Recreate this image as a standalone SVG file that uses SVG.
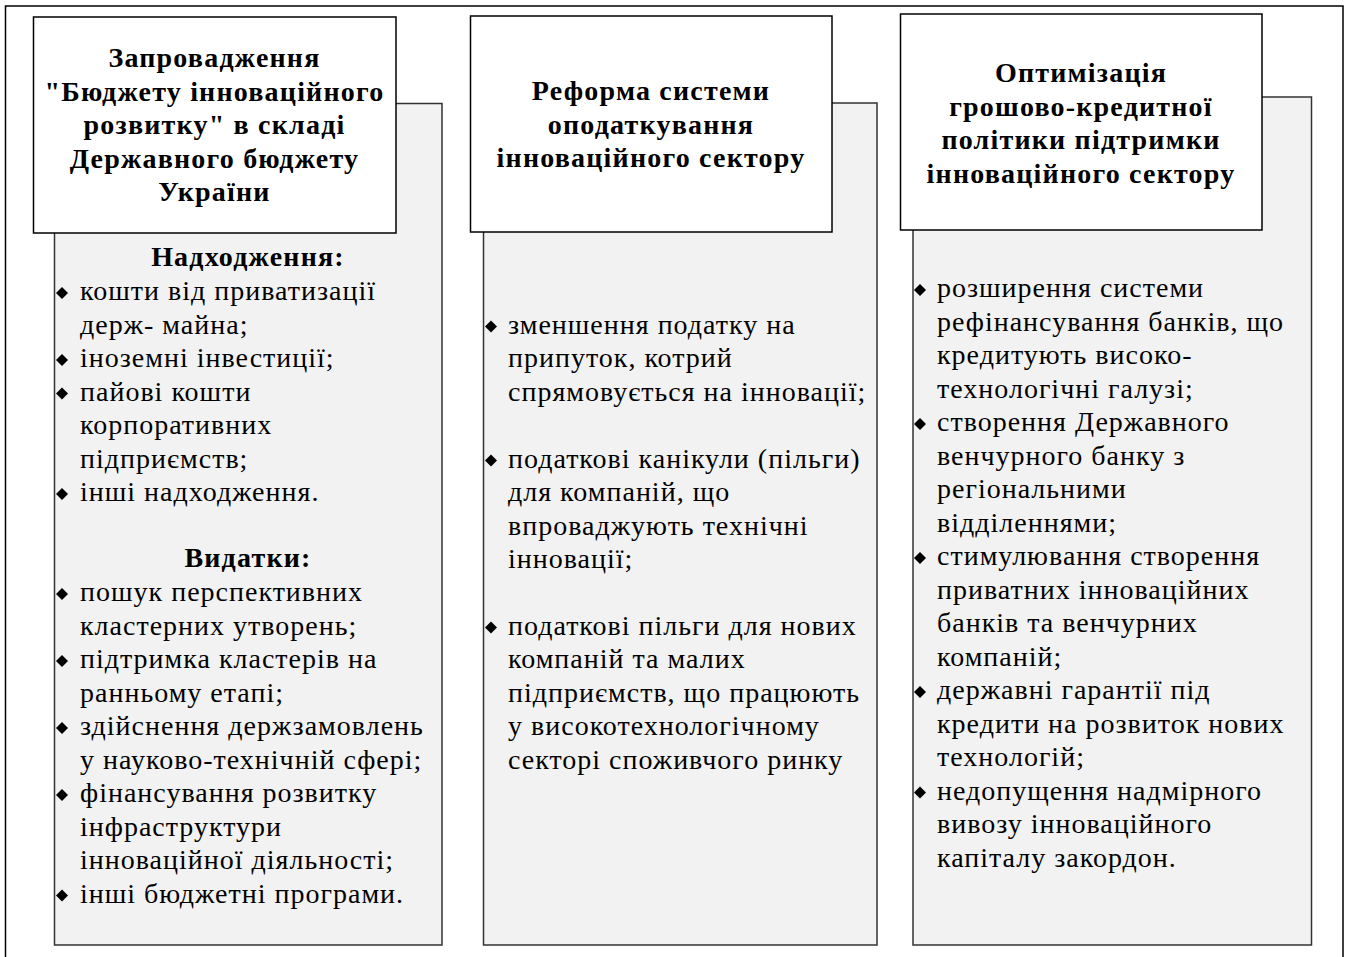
<svg xmlns="http://www.w3.org/2000/svg" width="1348" height="957" viewBox="0 0 1348 957">
<defs>
<style>
.frame{fill:none;stroke:#000;stroke-width:1.5}
.panel{fill:#f2f2f2;stroke:#333;stroke-width:1.5}
.head{fill:#fff;stroke:#000;stroke-width:1.5}
.t{font-family:"Liberation Serif","Times New Roman",serif;font-size:28px;fill:#000}
.b{font-weight:bold;text-anchor:middle;letter-spacing:1.2px}
.body{letter-spacing:1px}
.dot{fill:#000}
</style>
<path id="dm" d="M0,-6 L6,0 L0,6 L-6,0 Z"/>
</defs>
<rect class="frame" x="5.5" y="6" width="1337.5" height="960"/>

<g id="connectors"></g>

<g id="col1">
<rect class="panel" x="54.5" y="103.5" width="387.5" height="841.5"/>
<rect class="head" x="33.5" y="17" width="362.5" height="216"/>
<text class="t b" x="214.5" y="67">Запровадження</text>
<text class="t b" x="214.5" y="101">"Бюджету інноваційного</text>
<text class="t b" x="214.5" y="134">розвитку" в складі</text>
<text class="t b" x="214.5" y="168">Державного бюджету</text>
<text class="t b" x="214.5" y="201">України</text>
<text class="t b" x="248" y="266">Надходження:</text>
<g class="t body">
<text x="80" y="300">кошти від приватизації</text>
<text x="80" y="333.5">держ- майна;</text>
<text x="80" y="367">іноземні інвестиції;</text>
<text x="80" y="400.5">пайові кошти</text>
<text x="80" y="434">корпоративних</text>
<text x="80" y="467.5">підприємств;</text>
<text x="80" y="501">інші надходження.</text>
</g>
<text class="t b" x="248" y="567">Видатки:</text>
<g class="t body">
<text x="80" y="601">пошук перспективних</text>
<text x="80" y="634.5">кластерних утворень;</text>
<text x="80" y="668">підтримка кластерів на</text>
<text x="80" y="701.5">ранньому етапі;</text>
<text x="80" y="735">здійснення держзамовлень</text>
<text x="80" y="768.5">у науково-технічній сфері;</text>
<text x="80" y="802">фінансування розвитку</text>
<text x="80" y="835.5">інфраструктури</text>
<text x="80" y="869">інноваційної діяльності;</text>
<text x="80" y="902.5">інші бюджетні програми.</text>
</g>
<g class="dot">
<use href="#dm" x="62" y="293"/>
<use href="#dm" x="62" y="360"/>
<use href="#dm" x="62" y="393.5"/>
<use href="#dm" x="62" y="494"/>
<use href="#dm" x="62" y="594"/>
<use href="#dm" x="62" y="661"/>
<use href="#dm" x="62" y="728"/>
<use href="#dm" x="62" y="795"/>
<use href="#dm" x="62" y="895.5"/>
</g>
</g>

<g id="col2">
<rect class="panel" x="483.5" y="103" width="393.5" height="842"/>
<rect class="head" x="470.5" y="16" width="361.5" height="216"/>
<text class="t b" x="651" y="100">Реформа системи</text>
<text class="t b" x="651" y="133.5">оподаткування</text>
<text class="t b" x="651" y="167">інноваційного сектору</text>
<g class="t body">
<text x="508" y="333.5">зменшення податку на</text>
<text x="508" y="367">припуток, котрий</text>
<text x="508" y="400.5">спрямовується на інновації;</text>
<text x="508" y="467.5">податкові канікули (пільги)</text>
<text x="508" y="501">для компаній, що</text>
<text x="508" y="534.5">впроваджують технічні</text>
<text x="508" y="568">інновації;</text>
<text x="508" y="634.5">податкові пільги для нових</text>
<text x="508" y="668">компаній та малих</text>
<text x="508" y="701.5">підприємств, що працюють</text>
<text x="508" y="735">у високотехнологічному</text>
<text x="508" y="768.5">секторі споживчого ринку</text>
</g>
<g class="dot">
<use href="#dm" x="491" y="326.5"/>
<use href="#dm" x="491" y="460.5"/>
<use href="#dm" x="491" y="627.5"/>
</g>
</g>

<g id="col3">
<rect class="panel" x="913" y="97" width="398.5" height="848"/>
<rect class="head" x="900.5" y="14" width="361.5" height="216"/>
<text class="t b" x="1081" y="82">Оптимізація</text>
<text class="t b" x="1081" y="115.5">грошово-кредитної</text>
<text class="t b" x="1081" y="149">політики підтримки</text>
<text class="t b" x="1081" y="182.5">інноваційного сектору</text>
<g class="t body">
<text x="937" y="297">розширення системи</text>
<text x="937" y="330.5">рефінансування банків, що</text>
<text x="937" y="364">кредитують високо-</text>
<text x="937" y="397.5">технологічні галузі;</text>
<text x="937" y="431">створення Державного</text>
<text x="937" y="464.5">венчурного банку з</text>
<text x="937" y="498">регіональними</text>
<text x="937" y="531.5">відділеннями;</text>
<text x="937" y="565">стимулювання створення</text>
<text x="937" y="598.5">приватних інноваційних</text>
<text x="937" y="632">банків та венчурних</text>
<text x="937" y="665.5">компаній;</text>
<text x="937" y="699">державні гарантії під</text>
<text x="937" y="732.5">кредити на розвиток нових</text>
<text x="937" y="766">технологій;</text>
<text x="937" y="799.5">недопущення надмірного</text>
<text x="937" y="833">вивозу інноваційного</text>
<text x="937" y="866.5">капіталу закордон.</text>
</g>
<g class="dot">
<use href="#dm" x="920" y="290"/>
<use href="#dm" x="920" y="424"/>
<use href="#dm" x="920" y="558"/>
<use href="#dm" x="920" y="692"/>
<use href="#dm" x="920" y="792.5"/>
</g>
</g>
</svg>
